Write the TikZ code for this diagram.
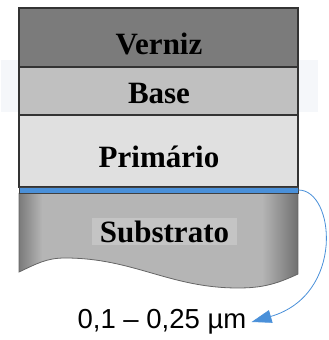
\documentclass[tikz,border=0pt]{standalone}
\usepackage{fontspec}
\setmainfont{Liberation Serif}
\newfontfamily\labelfont{Liberation Sans}
\usepackage{xcolor}
\usepackage{tikz}
\usetikzlibrary{arrows.meta, positioning}

\definecolor{verniz}{HTML}{7B7B7B}
\definecolor{basecol}{HTML}{C0C0C0}
\definecolor{primario}{HTML}{E0E0E0}
\definecolor{filmblue}{HTML}{4A90D9}
\definecolor{band}{HTML}{F5F7FA}

% contorno ondulado do substrato
\newcommand{\substratopath}{(19,147) -- (19,68) to[out=25, in=180] (65,82)
  to[out=0, in=180] (238,52) to[out=0, in=205] (298,66) -- (298,147)}

\tikzset{
  layer/.style={fill=#1, draw=black!80, line width=1.2pt},
  layertext/.style={font=\fontsize{31}{31}\selectfont\bfseries, text=black},
  film/.style={fill=filmblue, draw=black!75, line width=0.9pt, inner sep=0pt,
    minimum width=279pt, minimum height=6pt},
}

\begin{document}
\begin{tikzpicture}[x=1pt, y=1pt]
\useasboundingbox (0,0) rectangle (329,340);

% Faixa de fundo
\fill[band] (1,228) rectangle (318,280);

% Substrato com borda ondulada
\begin{scope}
  \clip \substratopath -- cycle;
  \fill[black!29] (19,40) rectangle (298,147);
  \shade[left color=black!52, right color=black!29] (19,40) rectangle (42,147);
  \shade[left color=black!29, right color=black!56] (262,40) rectangle (298,147);
\end{scope}
\draw[black!60, line width=0.8pt] \substratopath;
\node[layertext, fill=black!23, inner sep=2pt, minimum width=145pt, minimum height=27pt] (sub) at (164.5,108.5) {Substrato};

% Camadas
\filldraw[layer=primario] (19,153) rectangle (298,225);
\filldraw[layer=basecol] (19,225) rectangle (298,273);
\filldraw[layer=verniz] (19,273) rectangle (298,332);

\node[layertext] (verniz) at (159,296) {Verniz};
\node[layertext] (base) at (159,246) {Base};
\node[layertext] (prim) at (159,183) {Primário};

% Filme fino
\node[film] (filme) at (158.5,150) {};

% Espessura
\node[font=\labelfont\fontsize{27.5}{27.5}\selectfont, inner sep=1pt] (esp) at (162,18) {0,1 – 0,25 µm};
\draw[filmblue, line width=0.8pt, -{Triangle[length=20pt, width=13pt]}]
  (filme.east) .. controls (335,150) and (345,45) .. ([xshift=4pt]esp.east);

\end{tikzpicture}
\end{document}
